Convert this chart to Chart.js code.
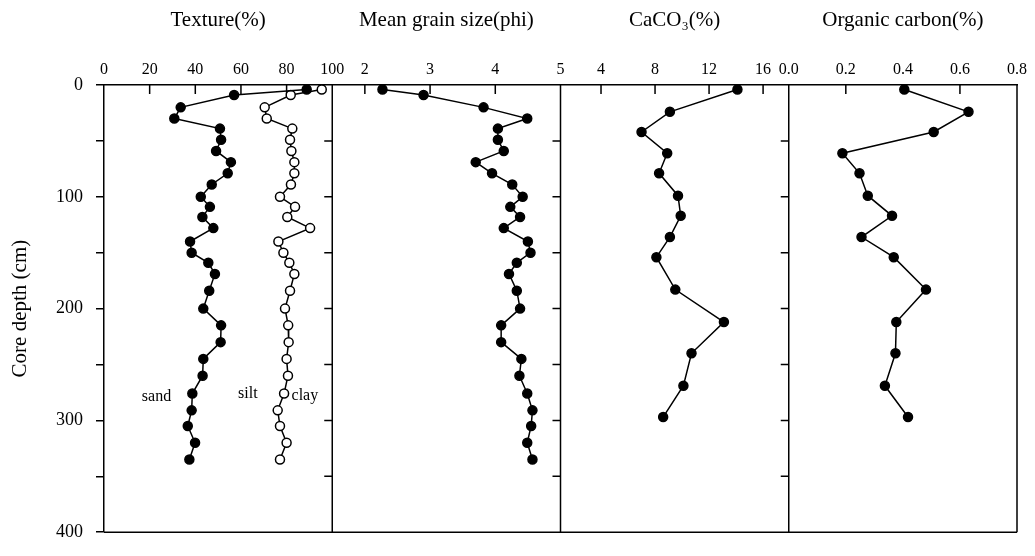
<!DOCTYPE html>
<html>
<head>
<meta charset="utf-8">
<script src="https://cdn.jsdelivr.net/npm/chart.js@4.4.0/dist/chart.umd.min.js"></script>
<style>
  html, body { margin: 0; padding: 0; background: #fff; }
</style>
</head>
<body>
<canvas id="coreChart" width="1035" height="556"></canvas>
<script>
// depths (cm) of the texture / grain size samples
const depthFine = [4, 9, 20, 30, 39, 49, 59, 69, 79, 89, 100, 109, 118, 128, 140, 150, 159, 169, 184, 200, 215, 230, 245, 260, 276, 291, 305, 320, 335];
// cumulative texture: sand, and sand + silt (rest is clay)
const sand = [88.8, 57.0, 33.6, 30.8, 50.8, 51.3, 49.1, 55.6, 54.2, 47.2, 42.4, 46.4, 43.1, 47.9, 37.7, 38.4, 45.7, 48.6, 46.1, 43.5, 51.3, 51.1, 43.5, 43.2, 38.7, 38.4, 36.7, 39.9, 37.4];
const sandSilt = [95.4, 81.8, 70.4, 71.3, 82.5, 81.5, 82.1, 83.4, 83.4, 81.9, 77.1, 83.7, 80.3, 90.3, 76.4, 78.6, 81.2, 83.4, 81.5, 79.3, 80.7, 80.9, 80.0, 80.6, 78.9, 76.1, 77.1, 80.0, 77.1];
const grainSize = [2.27, 2.90, 3.82, 4.49, 4.04, 4.04, 4.13, 3.70, 3.95, 4.26, 4.42, 4.23, 4.38, 4.13, 4.50, 4.54, 4.33, 4.21, 4.33, 4.38, 4.09, 4.09, 4.40, 4.37, 4.49, 4.57, 4.55, 4.49, 4.57];

// depths (cm) of the CaCO3 / organic carbon samples
const depthCoarse = [4, 24, 42, 61, 79, 99, 117, 136, 154, 183, 212, 240, 269, 297];
const caco3 = [14.1, 9.1, 7.0, 8.9, 8.3, 9.7, 9.9, 9.1, 8.1, 9.5, 13.1, 10.7, 10.1, 8.6];
const organicC = [0.405, 0.63, 0.508, 0.188, 0.248, 0.277, 0.362, 0.255, 0.368, 0.481, 0.377, 0.374, 0.337, 0.418];

// tick labels
const depthTicks = [0, 50, 100, 150, 200, 250, 300, 350, 400];
const textureTicks = [0, 20, 40, 60, 80, 100];
const grainTicks = [2, 3, 4, 5];
const caco3Ticks = [4, 8, 12, 16];
const ocTicks = [0, 0.2, 0.4, 0.6, 0.8];

const serif = "'Liberation Serif', 'Times New Roman', serif";
const panelIds = ['tex', 'grain', 'caco', 'oc'];

// little text labels in the texture panel (value, depth)
const textureNotes = [
    { text: 'sand', x: 23, y: 279 },
    { text: 'silt', x: 63, y: 276 },
    { text: 'clay', x: 88, y: 278 }
];

function pts(values, depths) {
    return values.map((v, i) => ({ x: v, y: depths[i] }));
}

function series(values, depths, axis, open) {
    return {
        data: pts(values, depths),
        xAxisID: axis,
        showLine: true,
        borderColor: '#000',
        borderWidth: 1.5,
        pointRadius: 4.5,
        pointBorderWidth: 1.5,
        pointBorderColor: '#000',
        pointBackgroundColor: open ? '#fff' : '#000'
    };
}

function topAxis(min, max, tickVals, title, fmt) {
    return {
        type: 'linear',
        position: 'top',
        stack: 'panels',
        stackWeight: 1,
        min: min,
        max: max,
        afterBuildTicks: s => { s.ticks = tickVals.map(v => ({ value: v })); },
        ticks: {
            autoSkip: false,
            maxRotation: 0,
            padding: 6,
            color: '#000',
            font: { family: serif, size: 16 },
            callback: fmt
        },
        grid: { display: false, drawTicks: false },
        border: { color: '#000', width: 1.5 },
        title: {
            display: true,
            text: title,
            color: '#000',
            font: { family: serif, size: 21 },
            padding: { top: 8, bottom: 0 }
        },
        afterFit: s => { s.height = 85; }
    };
}

// panel frames and inward tick marks
const framePlugin = {
    id: 'frame',
    beforeDatasetsDraw(chart) {
        const ctx = chart.ctx;
        const area = chart.chartArea;
        const yScale = chart.scales.y;
        ctx.save();
        ctx.strokeStyle = '#000';
        ctx.lineWidth = 1.5;
        ctx.beginPath();
        ctx.moveTo(area.left, area.bottom);
        ctx.lineTo(area.right, area.bottom);
        panelIds.forEach((id, k) => {
            const sc = chart.scales[id];
            ctx.moveTo(sc.right, area.top);
            ctx.lineTo(sc.right, area.bottom);
            // ticks pointing down from the top axis
            sc.ticks.forEach(t => {
                const px = sc.getPixelForValue(t.value);
                if (px > sc.left + 2 && px < sc.right - 2) {
                    ctx.moveTo(px, area.top);
                    ctx.lineTo(px, area.top + 9);
                }
            });
            // ticks pointing left on the panel divider
            if (k < panelIds.length - 1) {
                depthTicks.slice(1, -1).forEach(d => {
                    const py = yScale.getPixelForValue(d);
                    ctx.moveTo(sc.right, py);
                    ctx.lineTo(sc.right - 8, py);
                });
            }
        });
        ctx.stroke();

        const tex = chart.scales.tex;
        ctx.fillStyle = '#000';
        ctx.font = '16px ' + serif;
        ctx.textAlign = 'center';
        ctx.textBaseline = 'middle';
        textureNotes.forEach(n => {
            ctx.fillText(n.text, tex.getPixelForValue(n.x), yScale.getPixelForValue(n.y));
        });
        ctx.restore();
    }
};

const ctx = document.getElementById('coreChart').getContext('2d');
new Chart(ctx, {
    type: 'scatter',
    data: {
        datasets: [
            series(sand, depthFine, 'tex', false),
            series(sandSilt, depthFine, 'tex', true),
            series(grainSize, depthFine, 'grain', false),
            series(caco3, depthCoarse, 'caco', false),
            series(organicC, depthCoarse, 'oc', false)
        ]
    },
    options: {
        responsive: false,
        animation: false,
        layout: { padding: { top: 0, left: 0, right: 18, bottom: 9 } },
        plugins: { legend: { display: false }, tooltip: { enabled: false } },
        scales: {
            y: {
                type: 'linear',
                position: 'left',
                reverse: true,
                min: 0,
                max: 400,
                afterBuildTicks: s => { s.ticks = depthTicks.map(v => ({ value: v })); },
                ticks: {
                    autoSkip: false,
                    padding: 13,
                    color: '#000',
                    font: { family: serif, size: 18 },
                    callback: v => (v % 100 === 0 ? v : '')
                },
                grid: { drawOnChartArea: false, drawTicks: true, tickLength: 8, color: '#000', lineWidth: 1.5 },
                border: { color: '#000', width: 1.5 },
                title: {
                    display: true,
                    text: 'Core depth (cm)',
                    color: '#000',
                    font: { family: serif, size: 21 },
                    padding: { top: 8, bottom: 0 }
                },
                afterFit: s => { s.width = 104; }
            },
            // top boxes in one stack are laid out last-first, so list them right to left
            oc: topAxis(0, 0.8, ocTicks, 'Organic carbon(%)', v => v.toFixed(1)),
            caco: topAxis(1, 17.9, caco3Ticks, 'CaCO\u2083(%)', v => v),
            grain: topAxis(1.5, 5, grainTicks, 'Mean grain size(phi)', v => v),
            tex: topAxis(0, 100, textureTicks, 'Texture(%)', v => v)
        }
    },
    plugins: [framePlugin]
});
</script>
</body>
</html>
